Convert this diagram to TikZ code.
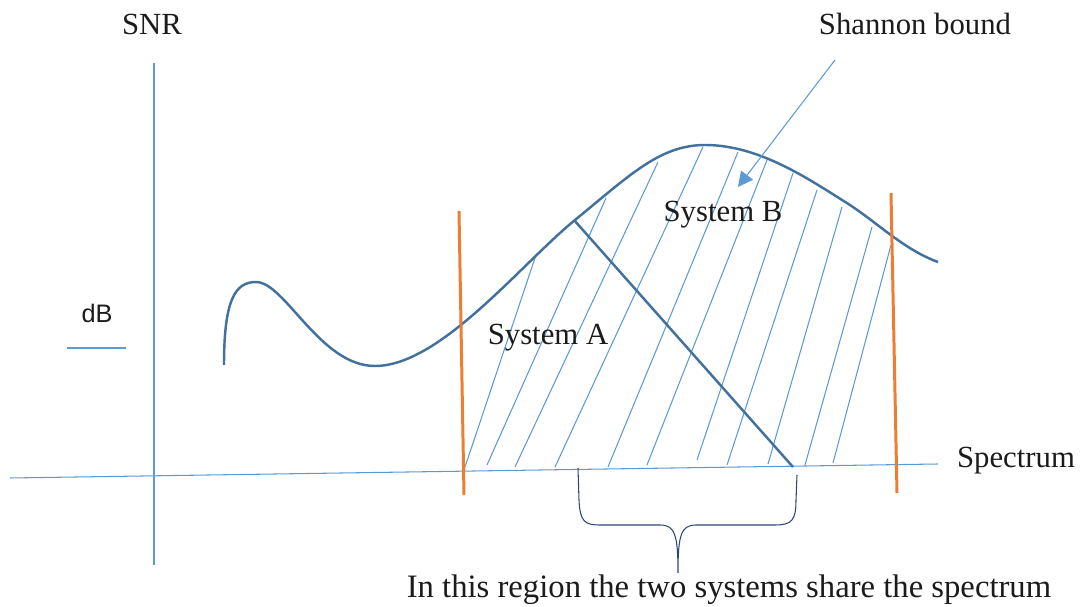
\documentclass[tikz,border=0pt]{standalone}
\usepackage{fontspec}
\setmainfont{Liberation Serif}
\newfontfamily\arialfont{Liberation Sans}
\usepackage{xcolor}
\usepackage{tikz}
\usetikzlibrary{arrows.meta}
\definecolor{cAxis}{HTML}{5B9BD5}
\definecolor{cCurve}{HTML}{41719C}
\definecolor{cCut}{HTML}{ED7D31}
\definecolor{cBrace}{HTML}{2F4576}
\definecolor{cInk}{HTML}{1B1B1B}
\newcommand{\lblfont}{\fontsize{17.5}{21}\selectfont}
\tikzset{
  axis/.style={cAxis, line width=0.6pt},
  bound/.style={cCurve, line width=1.4pt},
  cut/.style={cCut, line width=1.7pt},
  hatch/.style={cAxis, line width=0.6pt},
  sep/.style={cCurve, line width=1.4pt},
  brc/.style={cBrace, line width=0.6pt},
  ar/.style={-{Triangle[length=8.5pt,width=8.5pt]}, cAxis, line width=0.6pt},
  lbl/.style={font=\lblfont, text=cInk, anchor=base, inner sep=0pt}
}

\begin{document}
\begin{tikzpicture}[x=0.02cm, y=-0.02cm]
\useasboundingbox (0,0) rectangle (1080,607);
% axes
\coordinate (yTop) at (154,63);
\coordinate (yBot) at (154,565);
\coordinate (xL) at (10,478);
\coordinate (xR) at (938,464);
\draw[axis] (yTop) -- (yBot);
\draw[axis] (xL) -- (xR);
\coordinate (dbL) at (67,348);
\coordinate (dbR) at (126,348);
\draw[axis] (dbL) -- (dbR);
\node[lbl] (snr) at (152,35) {SNR};
\node[lbl, font=\arialfont\fontsize{14.4}{17}\selectfont] (db) at (97,323) {dB};
\node[lbl] (spec) at (1016,468) {Spectrum};
% hatching under the bound
\foreach \xa/\ya/\xb/\yb in {465/467/536/255, 487/465/606/198, 515/467/658/162,
  555/467/703/147, 608/467/738/152, 647/465/767/160, 697/460/793/173,
  727/465/817/190, 768/464/842/207, 805/465/872/227, 833/463/891/245}
  \draw[hatch] (\xa,\ya) -- (\xb,\yb);
% shannon bound
\draw[bound] (224,365) .. controls (224,300) and (235,282) .. (256,282)
  .. controls (285,282) and (320,366) .. (375,366)
  .. controls (440,366) and (520,265) .. (575,220)
  .. controls (630,175) and (660,145) .. (705,145)
  .. controls (760,145) and (810,180) .. (850,205)
  .. controls (880,225) and (905,250) .. (938,262);
% band edges
\coordinate (cutAT) at (459,211);
\coordinate (cutAB) at (464,495);
\coordinate (cutBT) at (891,193);
\coordinate (cutBB) at (897,493);
\draw[cut] (cutAT) -- (cutAB);
\draw[cut] (cutBT) -- (cutBB);
% split between the systems
\coordinate (sepT) at (574,220);
\coordinate (sepB) at (793,467);
\draw[sep] (sepT) -- (sepB);
\node[lbl] (sysA) at (548,345) {System A};
\node[lbl] (sysB) at (723,222) {System B};
% pointer to the bound
\node[lbl] (shannon) at (915,35) {Shannon bound};
\coordinate (shTail) at (835,60);
\coordinate (shTip) at (738,187);
\draw[ar] (shTail) -- (shTip);
% shared region
\coordinate (brL) at (578,468);
\coordinate (brR) at (797,475);
\coordinate (brTip) at (678,573);
\draw[brc] (brL) -- (579,500) .. controls (580,522) and (585,525) .. (600,525)
  -- (660,525) .. controls (675,525) and (678,535) .. (brTip)
  .. controls (678,535) and (681,525) .. (696,525)
  -- (775,525) .. controls (792,525) and (796,520) .. (796,500) -- (brR);
\node[lbl, font=\fontsize{18.6}{22}\selectfont] (share) at (729,598) {In this region the two systems share the spectrum};
\end{tikzpicture}
\end{document}
